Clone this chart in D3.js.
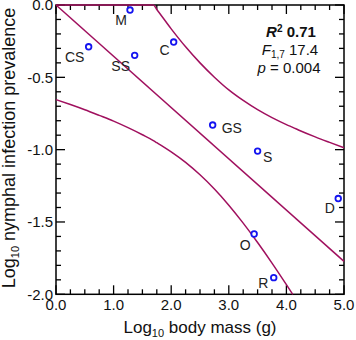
<!DOCTYPE html>
<html>
<head>
<meta charset="utf-8">
<script src="https://cdn.jsdelivr.net/npm/d3@7"></script>
<style>
  html, body { margin: 0; padding: 0; background: #fff; }
  svg { display: block; font-family: "Liberation Sans", Arial, Helvetica, sans-serif; }
</style>
</head>
<body>
<svg id="chart" width="356" height="340"></svg>
<script>
// ---- data ----
const species = ["M", "CS", "SS", "C", "GS", "S", "D", "O", "R"];
const logMass = [1.285, 0.567, 1.366, 2.043, 2.72, 3.50, 4.90, 3.44, 3.78];
const logPrevalence = [-0.035, -0.289, -0.348, -0.256, -0.830, -1.010, -1.338, -1.583, -1.885];

const fitX = [0, 5];
const fitY = [0.198, -1.772];

const bandX = [0, 0.25, 0.5, 0.75, 1.0, 1.25, 1.5, 1.69, 1.75, 2.0, 2.25, 2.5, 2.75, 3.0, 3.25, 3.5, 3.75, 4.0, 4.11, 4.25, 4.5, 4.75, 5.0];
const bandUpper = [1.05, 0.887, 0.726, 0.568, 0.411, 0.259, 0.111, 0.0, -0.031, -0.165, -0.289, -0.400, -0.499, -0.587, -0.660, -0.724, -0.779, -0.827, -0.846, -0.871, -0.912, -0.950, -0.987];
const bandLower = [-0.654, -0.688, -0.724, -0.763, -0.803, -0.848, -0.897, -0.937, -0.952, -1.015, -1.088, -1.174, -1.272, -1.384, -1.508, -1.642, -1.784, -1.933, -2.0, null, null, null, null];

const xTickValues = [0, 1, 2, 3, 4, 5];
const yTickValues = [-2.0, -1.5, -1.0, -0.5, 0.0];

const statR2 = "0.71";
const statF = "17.4";
const statP = "0.004";

// ---- layout / styles ----
const lineColor = "#a0105e";
const pointColor = "#1414f0";
const labelOffsets = {
  M: [-9, 15, "middle"], CS: [-14, 15, "middle"], SS: [-14, 16, "middle"], C: [-9, 13, "middle"],
  GS: [9, 8, "start"], S: [5.5, 11, "start"], D: [-8.5, 14, "middle"], O: [-9, 16, "middle"], R: [-10.5, 10, "middle"]
};

const svg = d3.select("#chart");
const x = d3.scaleLinear().domain([0, 5]).range([56, 344]);
const y = d3.scaleLinear().domain([-2, 0]).range([294.3, 5]).clamp(true);

// frame
svg.append("rect")
  .attr("x", x(0)).attr("y", y(0))
  .attr("width", x(5) - x(0)).attr("height", y(-2) - y(0))
  .attr("fill", "none").attr("stroke", "#000").attr("stroke-width", 1.5);

// ticks
const xMinor = d3.range(0, 5.001, 0.25);
const yMinor = d3.range(-2, 0.001, 0.1);
const isMajor = (v, step) => Math.abs(v / step - Math.round(v / step)) < 1e-6;
const tickG = svg.append("g").attr("stroke", "#000").attr("stroke-width", 1.3);
xMinor.forEach(v => {
  const len = isMajor(v, 1) ? 9 : 5;
  tickG.append("line").attr("x1", x(v)).attr("x2", x(v)).attr("y1", y(-2)).attr("y2", y(-2) - len);
  tickG.append("line").attr("x1", x(v)).attr("x2", x(v)).attr("y1", y(0)).attr("y2", y(0) + len);
});
yMinor.forEach(v => {
  const len = isMajor(v, 0.5) ? 9 : 5;
  tickG.append("line").attr("x1", x(0)).attr("x2", x(0) + len).attr("y1", y(v)).attr("y2", y(v));
  tickG.append("line").attr("x1", x(5)).attr("x2", x(5) - len).attr("y1", y(v)).attr("y2", y(v));
});

// tick labels
svg.append("g").selectAll("text").data(xTickValues).join("text")
  .attr("x", d => x(d)).attr("y", 310)
  .attr("text-anchor", "middle").attr("font-size", 15).attr("fill", "#111")
  .text(d => d.toFixed(1));
svg.append("g").selectAll("text").data(yTickValues).join("text")
  .attr("x", 53).attr("y", d => y(d)).attr("dy", "0.36em")
  .attr("text-anchor", "end").attr("font-size", 15).attr("fill", "#111")
  .text(d => d.toFixed(1));

// axis titles
const xt = svg.append("text").attr("x", 200).attr("y", 333)
  .attr("text-anchor", "middle").attr("font-size", 17).attr("fill", "#111");
xt.append("tspan").text("Log");
xt.append("tspan").attr("font-size", 11).attr("dy", 4).text("10");
xt.append("tspan").attr("dy", -4).text(" body mass (g)");

const yt = svg.append("text").attr("transform", "translate(15,148) rotate(-90)")
  .attr("text-anchor", "middle").attr("font-size", 18).attr("fill", "#111");
yt.append("tspan").text("Log");
yt.append("tspan").attr("font-size", 11).attr("dy", 4).text("10");
yt.append("tspan").attr("dy", -4).text(" nymphal infection prevalence");

// regression line and bands
const line = d3.line().defined(d => d[1] !== null).x(d => x(d[0])).y(d => y(d[1])).curve(d3.curveMonotoneX);
const curves = [
  fitX.map((v, i) => [v, fitY[i]]),
  bandX.map((v, i) => [v, bandUpper[i]]),
  bandX.map((v, i) => [v, bandLower[i]])
];
svg.append("g").selectAll("path").data(curves).join("path")
  .attr("d", d => line(d))
  .attr("fill", "none").attr("stroke", lineColor).attr("stroke-width", 1.5);

// points
const pts = species.map((s, i) => ({ s, x: logMass[i], y: logPrevalence[i] }));
svg.append("g").selectAll("circle").data(pts).join("circle")
  .attr("cx", d => x(d.x)).attr("cy", d => y(d.y)).attr("r", 2.8)
  .attr("fill", "#fff").attr("stroke", pointColor).attr("stroke-width", 1.8);
svg.append("g").selectAll("text").data(pts).join("text")
  .attr("x", d => x(d.x) + labelOffsets[d.s][0])
  .attr("y", d => y(d.y) + labelOffsets[d.s][1])
  .attr("text-anchor", d => labelOffsets[d.s][2])
  .attr("font-size", 14).attr("fill", "#222")
  .text(d => d.s);

// statistics
const stats = svg.append("g").attr("font-size", 15).attr("fill", "#111").attr("text-anchor", "middle");
const t1 = stats.append("text").attr("x", 291).attr("y", 36.5).attr("font-weight", "bold");
t1.append("tspan").attr("font-style", "italic").text("R");
t1.append("tspan").attr("font-size", 10).attr("dy", -5).text("2");
t1.append("tspan").attr("dy", 5).text(" " + statR2);
const t2 = stats.append("text").attr("x", 290).attr("y", 55);
t2.append("tspan").attr("font-style", "italic").text("F");
t2.append("tspan").attr("font-size", 10).attr("dy", 3).text("1,7");
t2.append("tspan").attr("dy", -3).text(" " + statF);
const t3 = stats.append("text").attr("x", 289).attr("y", 73.3);
t3.append("tspan").attr("font-style", "italic").text("p");
t3.append("tspan").text(" = " + statP);
</script>
</body>
</html>
